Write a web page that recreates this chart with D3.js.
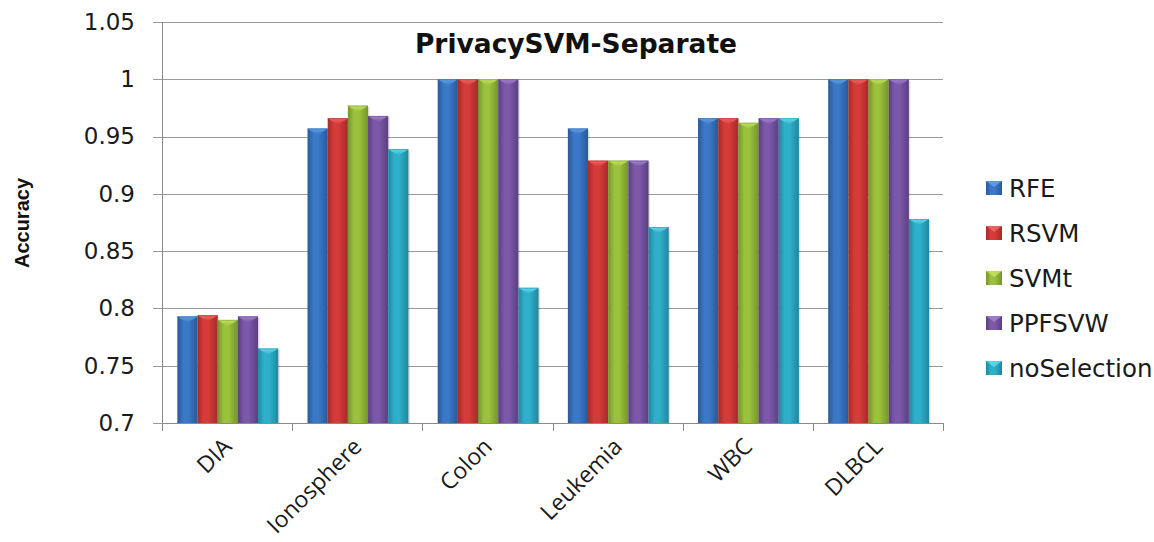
<!DOCTYPE html>
<html>
<head>
<meta charset="utf-8">
<script src="https://cdn.jsdelivr.net/npm/d3@7/dist/d3.min.js"></script>
<style>
  html, body { margin: 0; padding: 0; background: #fff; }
  svg { display: block; }
</style>
</head>
<body>
<svg id="chart" width="1154" height="542"></svg>
<script>
// Accuracy per dataset for each feature-selection method
const categories = ["DIA", "Ionosphere", "Colon", "Leukemia", "WBC", "DLBCL"];
const seriesNames = ["RFE", "RSVM", "SVMt", "PPFSVW", "noSelection"];
const rfe         = [0.793, 0.957, 1.000, 0.957, 0.966, 1.000];
const rsvm        = [0.794, 0.966, 1.000, 0.929, 0.966, 1.000];
const svmt        = [0.790, 0.977, 1.000, 0.929, 0.962, 1.000];
const ppfsvw      = [0.793, 0.968, 1.000, 0.929, 0.966, 1.000];
const noSelection = [0.765, 0.939, 0.818, 0.871, 0.966, 0.878];
const yTicks = [0.7, 0.75, 0.8, 0.85, 0.9, 0.95, 1, 1.05];
const yTickLabels = ["0.7", "0.75", "0.8", "0.85", "0.9", "0.95", "1", "1.05"];

const seriesValues = [rfe, rsvm, svmt, ppfsvw, noSelection];

// colour ramps per series: dark edge, base, light highlight
const palette = [
  { dark: "#28599a", base: "#3b78c6", light: "#64a4ea" },
  { dark: "#a52a28", base: "#d53b38", light: "#f06a66" },
  { dark: "#74952a", base: "#9cc13c", light: "#c6e466" },
  { dark: "#5a3f82", base: "#7c58a8", light: "#a585d2" },
  { dark: "#1f879e", base: "#2fb0ca", light: "#66dcf0" }
];

const svg = d3.select("#chart");
const margin = { left: 162, right: 943, top: 22, bottom: 423 };

const x0 = d3.scaleBand().domain(categories).range([margin.left, margin.right]).padding(0);
const step = x0.bandwidth();
const x1 = d3.scaleBand().domain(seriesNames).range([step * 0.118, step * 0.893]).padding(0);
const y = d3.scaleLinear().domain([0.7, 1.05]).range([margin.bottom, margin.top]);

// gradients for the bevelled bar look
const defs = svg.append("defs");
palette.forEach((c, i) => {
  const g = defs.append("linearGradient").attr("id", "bar" + i)
    .attr("x1", "0%").attr("x2", "100%").attr("y1", "0%").attr("y2", "0%");
  g.append("stop").attr("offset", "0%").attr("stop-color", c.dark);
  g.append("stop").attr("offset", "30%").attr("stop-color", c.base);
  g.append("stop").attr("offset", "55%").attr("stop-color", c.base);
  g.append("stop").attr("offset", "100%").attr("stop-color", c.dark);
  const t = defs.append("linearGradient").attr("id", "cap" + i)
    .attr("x1", "0%").attr("x2", "0%").attr("y1", "0%").attr("y2", "100%");
  t.append("stop").attr("offset", "0%").attr("stop-color", c.light);
  t.append("stop").attr("offset", "100%").attr("stop-color", c.base);
});

// gridlines with outward tick marks
const grid = svg.append("g");
grid.selectAll("line").data(yTicks).join("line")
  .attr("x1", margin.left - 9).attr("x2", margin.right)
  .attr("y1", d => Math.round(y(d)) + 0.5).attr("y2", d => Math.round(y(d)) + 0.5)
  .attr("stroke", "#9a9a9a").attr("stroke-width", 1);

// y axis labels
const yAxis = d3.axisLeft(y).tickValues(yTicks)
  .tickFormat((d, i) => yTickLabels[i]).tickSize(0).tickPadding(27);
const yg = svg.append("g").attr("transform", `translate(${margin.left},0)`).call(yAxis);
yg.select(".domain").remove();
yg.selectAll("text").attr("font-family", "DejaVu Sans").attr("font-size", 23)
  .attr("fill", "#1a1a1a");

// axis lines
svg.append("line").attr("x1", margin.left + 0.5).attr("x2", margin.left + 0.5)
  .attr("y1", margin.top).attr("y2", margin.bottom + 8)
  .attr("stroke", "#8a8a8a");

// bars
const groups = svg.append("g").selectAll("g").data(categories).join("g")
  .attr("transform", d => `translate(${x0(d)},0)`);

groups.each(function(cat, ci) {
  const g = d3.select(this);
  seriesNames.forEach((s, si) => {
    const v = seriesValues[si][ci];
    const bx = x1(s), bw = x1.bandwidth();
    const top = y(v), bottom = y(0.7);
    g.append("rect").attr("x", bx + 1.5).attr("y", top + 1.5)
      .attr("width", bw).attr("height", bottom - top - 1.5)
      .attr("fill", "#000").attr("opacity", 0.12);
    g.append("rect").attr("x", bx).attr("y", top)
      .attr("width", bw).attr("height", bottom - top)
      .attr("fill", `url(#bar${si})`);
    // chevron highlight at the bar top
    const h = 6;
    g.append("path")
      .attr("d", `M${bx},${top} L${bx + bw},${top} L${bx + bw - 3},${top + 2} L${bx + bw / 2},${top + h} L${bx + 3},${top + 2} Z`)
      .attr("fill", `url(#cap${si})`);
    g.append("line").attr("x1", bx).attr("x2", bx + bw)
      .attr("y1", top + 0.5).attr("y2", top + 0.5)
      .attr("stroke", palette[si].dark).attr("stroke-opacity", 0.5);
  });
});

// x axis line and category ticks
svg.append("line").attr("x1", margin.left).attr("x2", margin.right)
  .attr("y1", margin.bottom + 0.5).attr("y2", margin.bottom + 0.5)
  .attr("stroke", "#8a8a8a");
const xTickPos = categories.map(c => x0(c)).concat([margin.right]);
svg.append("g").selectAll("line").data(xTickPos).join("line")
  .attr("x1", d => Math.round(d) + 0.5).attr("x2", d => Math.round(d) + 0.5)
  .attr("y1", margin.bottom).attr("y2", margin.bottom + 8)
  .attr("stroke", "#8a8a8a");

// rotated category labels
svg.append("g").selectAll("text").data(categories).join("text")
  .attr("transform", d => `translate(${x0(d) + step / 2 + 6},${448}) rotate(-45)`)
  .attr("text-anchor", "end")
  .attr("font-family", "Open Sans").attr("font-size", 23).attr("fill", "#1a1a1a")
  .text(d => d);

// title
svg.append("text").attr("x", 576).attr("y", 53).attr("text-anchor", "middle")
  .attr("font-family", "DejaVu Sans").attr("font-weight", "bold").attr("font-size", 26.5)
  .attr("fill", "#111").text("PrivacySVM-Separate");

// y axis title
svg.append("text").attr("transform", "translate(29,223) rotate(-90)")
  .attr("text-anchor", "middle")
  .attr("font-family", "Liberation Sans").attr("font-weight", "bold").attr("font-size", 20)
  .attr("fill", "#111").text("Accuracy");

// legend
const legend = svg.append("g").selectAll("g").data(seriesNames).join("g")
  .attr("transform", (d, i) => `translate(986,${188 + i * 45})`);
legend.append("rect").attr("x", 0).attr("y", -7).attr("width", 16).attr("height", 14)
  .attr("fill", (d, i) => `url(#bar${i})`);
legend.append("path")
  .attr("d", "M0,-7 L16,-7 L8,-1 Z")
  .attr("fill", (d, i) => palette[i].light).attr("opacity", 0.8);
legend.append("text").attr("x", 23).attr("y", 8.5)
  .attr("font-family", "DejaVu Sans").attr("font-size", 24.5).attr("fill", "#1a1a1a")
  .text(d => d);
</script>
</body>
</html>
